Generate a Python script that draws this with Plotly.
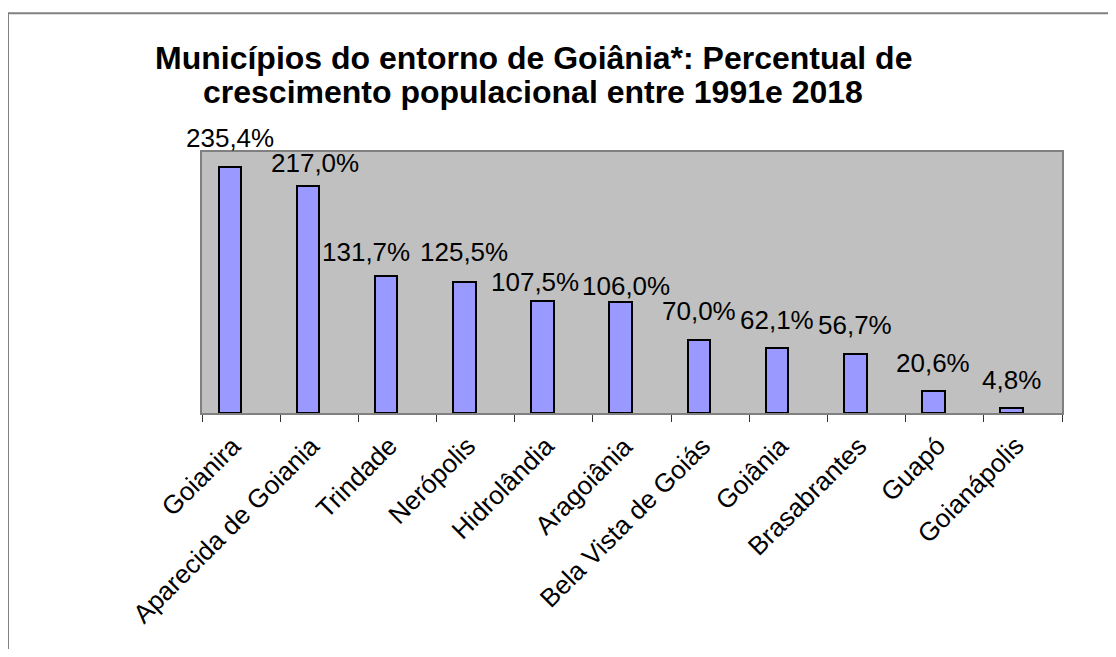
import plotly.graph_objects as go

municipios = ['Goianira', 'Aparecida de Goiania', 'Trindade', 'Nerópolis', 'Hidrolândia',
              'Aragoiânia', 'Bela Vista de Goiás', 'Goiânia', 'Brasabrantes', 'Guapó', 'Goianápolis']
crescimento = [235.4, 217.0, 131.7, 125.5, 107.5, 106.0, 70.0, 62.1, 56.7, 20.6, 4.8]
rotulos = [f'{v:.1f}%'.replace('.', ',') for v in crescimento]

# ajuste manual dos rotulos (px): deslocamento horizontal e distancia ate o topo da barra
rot_dx = [0, 7, -20, 0, -8, 5, 0, 0, 0, 0, 0]
rot_gap = [18, 12, 13, 19, 8, 5, 18, 17, 18, 17, 17]

largura = 0.288
meia_barra_px = 11.25

fig = go.Figure()
fig.add_trace(go.Bar(x=municipios, y=crescimento, width=largura, offset=-largura,
                     marker=dict(color='#9999FF', line=dict(color='black', width=2)),
                     hoverinfo='x+y'))

# rotulos acima das barras
for m, v, r, dx, g in zip(municipios, crescimento, rotulos, rot_dx, rot_gap):
    fig.add_annotation(x=m, y=v, text=r, showarrow=False, yanchor='bottom',
                       xshift=dx - meia_barra_px, yshift=g - 6,
                       font=dict(size=26, color='black'))

# nomes dos municipios inclinados sob o eixo
for m in municipios:
    fig.add_annotation(x=m, y=0, yref='paper', text=m, showarrow=False, textangle=-45,
                       xanchor='right', yanchor='top', xshift=9, yshift=-15,
                       font=dict(size=26, color='black'))

# titulo em duas linhas
titulo = ['<b>Municípios do entorno de Goiânia*: Percentual de</b>',
          '<b>crescimento populacional entre 1991e 2018</b>']
for t, yy in zip(titulo, [1.36, 1.23]):
    fig.add_annotation(xref='paper', yref='paper', x=0.385, y=yy, text=t, showarrow=False,
                       xanchor='center', yanchor='middle', font=dict(size=32, color='black'))

# moldura externa do grafico
fig.add_shape(type='rect', xref='paper', yref='paper', x0=-0.2256, x1=1.1, y0=-1.1, y1=1.5312,
              line=dict(color='#808080', width=2), layer='below')

fig.update_layout(
    width=1100, height=641,
    margin=dict(l=194, r=46, t=144, b=236),
    paper_bgcolor='white', plot_bgcolor='#C0C0C0',
    font=dict(family='Liberation Sans, Arial, sans-serif', color='black'),
    showlegend=False, bargap=0,
)
fig.update_xaxes(range=[-0.5, len(municipios) - 0.5], showticklabels=False, ticks='outside',
                 ticklen=7, tickcolor='#333333', tickson='boundaries', showline=True,
                 linecolor='#808080', linewidth=2, mirror=True, showgrid=False)
fig.update_yaxes(range=[0, 250], showticklabels=False, showgrid=False, zeroline=False,
                 showline=True, linecolor='#808080', linewidth=2, mirror=True)

fig.write_html('out.html')
